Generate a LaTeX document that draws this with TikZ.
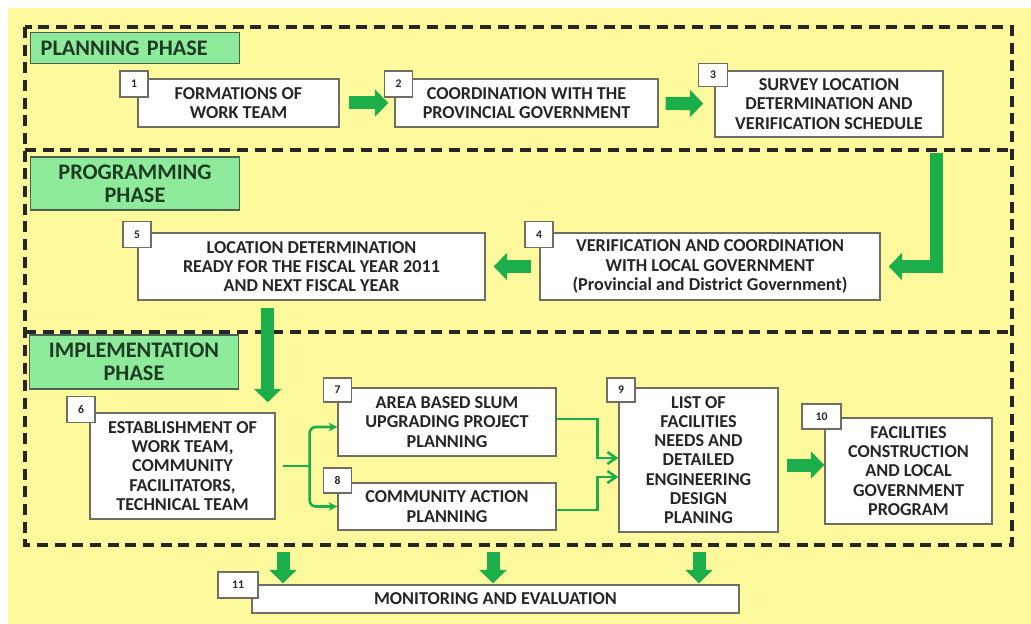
\documentclass[tikz,border=0pt]{standalone}
\usepackage{fontspec}
\setmainfont{Carlito}
\usetikzlibrary{arrows.meta,positioning,calc}
\definecolor{pbyellow}{HTML}{FFF99E}
\definecolor{pbgreen}{HTML}{1BAE4B}
\definecolor{pblabel}{HTML}{8DEB9B}
\definecolor{pbline}{HTML}{6E6E62}
\definecolor{pbtext}{HTML}{262626}
\definecolor{pbdark}{HTML}{1F3B22}
\tikzset{
  stepbox/.style={rectangle, draw=pbline, fill=white, line width=1.2pt, align=center,
                  font=\fontsize{15.5}{16.4}\selectfont\bfseries, text=pbtext, inner sep=2pt},
  numtag/.style={rectangle, draw=pbline, fill=white, line width=1pt,
                 font=\fontsize{10}{11}\selectfont\bfseries, text=pbtext,
                 minimum width=0.84cm, minimum height=0.78cm, inner sep=0pt},
  phase/.style={rectangle, draw=pbdark!80, fill=pblabel, line width=1.2pt, align=center,
                font=\fontsize{19}{20}\selectfont\bfseries, text=pbdark,
                minimum width=6.27cm, inner sep=3pt},
  fatarrow/.style={draw=pbgreen, line width=0.39cm, -{Triangle[width=0.8cm, length=0.4cm]}},
  thinarrow/.style={draw=pbgreen, line width=2.2pt, -{Stealth[length=2.6mm, width=2.6mm]}},
  barbarrow/.style={draw=pbgreen, line width=2.2pt, -{Straight Barb[length=2.6mm, width=3.6mm]}},
  framedash/.style={draw=black!85, line width=2.6pt, dash pattern=on 0.33cm off 0.2cm},
}

\begin{document}
\begin{tikzpicture}[x=0.03cm, y=-0.03cm]
\useasboundingbox (0,0) rectangle (1031,624);
\fill[white] (0,0) rectangle (1031,624);
\fill[pbyellow] (8,8) rectangle (1031,624);

% phase frame
\draw[framedash] (25,27) rectangle (1012,545);
\draw[framedash] (25,150) -- (1012,150);
\draw[framedash] (25,332) -- (1012,332);

\node[phase, anchor=north west, minimum height=0.93cm, inner xsep=0.3cm, text width=5.67cm, align=left] (ph1) at (30,32) {PLANNING PHASE};
\node[phase, minimum height=1.59cm] (ph2) at (135,183.5) {PROGRAMMING\\PHASE};
\node[phase, minimum height=1.62cm] (ph3) at (134,362) {IMPLEMENTATION\\PHASE};

% steps
\node[stepbox, minimum width=6.03cm, minimum height=1.44cm] (b1) at (238.5,103) {FORMATIONS OF\\WORK TEAM};
\node[stepbox, minimum width=7.89cm, minimum height=1.44cm] (b2) at (526.5,103) {COORDINATION WITH THE\\PROVINCIAL GOVERNMENT};
\node[stepbox, minimum width=6.84cm, minimum height=1.98cm] (b3) at (829,104) {SURVEY LOCATION\\DETERMINATION AND\\VERIFICATION SCHEDULE};
\node[stepbox, minimum width=10.2cm, minimum height=2.01cm] (b4) at (710,266.5) {VERIFICATION AND COORDINATION\\WITH LOCAL GOVERNMENT\\(Provincial and District Government)};
\node[stepbox, minimum width=10.41cm, minimum height=2.01cm] (b5) at (311.5,266.5) {LOCATION DETERMINATION\\READY FOR THE FISCAL YEAR 2011\\AND NEXT FISCAL YEAR};
\node[stepbox, minimum width=5.55cm, minimum height=3.18cm] (b6) at (182.5,466) {ESTABLISHMENT OF\\WORK TEAM,\\COMMUNITY\\FACILITATORS,\\TECHNICAL TEAM};
\node[stepbox, minimum width=6.54cm, minimum height=2.04cm] (b7) at (447,422) {AREA BASED SLUM\\UPGRADING PROJECT\\PLANNING};
\node[stepbox, minimum width=6.54cm, minimum height=1.41cm] (b8) at (447,506.5) {COMMUNITY ACTION\\PLANNING};
\node[stepbox, minimum width=4.77cm, minimum height=4.32cm] (b9) at (698.5,460) {LIST OF\\FACILITIES\\NEEDS AND\\DETAILED\\ENGINEERING\\DESIGN\\PLANING};
\node[stepbox, minimum width=5.01cm, minimum height=3.18cm] (b10) at (908.5,471) {FACILITIES\\CONSTRUCTION\\AND LOCAL\\GOVERNMENT\\PROGRAM};
\node[stepbox, minimum width=14.61cm, minimum height=0.84cm] (b11) at (495.5,599) {MONITORING AND EVALUATION};

% number tags
\node[numtag] (n1) at (134,84) {1};
\node[numtag] (n2) at (398.5,84) {2};
\node[numtag, minimum width=0.87cm, minimum height=0.69cm] (n3) at (713,75) {3};
\node[numtag] (n4) at (539,234.5) {4};
\node[numtag] (n5) at (137,234.5) {5};
\node[numtag] (n6) at (81,409.5) {6};
\node[numtag, minimum height=0.72cm] (n7) at (337.5,390) {7};
\node[numtag, minimum height=0.75cm] (n8) at (337.5,480.5) {8};
\node[numtag, minimum height=0.72cm] (n9) at (621,390) {9};
\node[numtag, minimum width=1.17cm, minimum height=0.75cm] (n10) at (821.5,416.5) {10};
\node[numtag, minimum width=1.2cm] (n11) at (238,585) {11};

% flow
\draw[fatarrow, shorten <=0.27cm, shorten >=0.18cm] (b1) -- (b2);
\draw[fatarrow, shorten <=0.21cm, shorten >=0.33cm] (b2) -- (b3);
\coordinate (c34) at ($(b3.south east)+(-7,15)$);
\draw[fatarrow, shorten >=0.24cm] (c34) |- (b4.east);
\draw[fatarrow, shorten <=0.24cm, shorten >=0.24cm] (b4) -- (b5);
\coordinate (c56) at ($(b6.north east)+(-8,0)$);
\draw[fatarrow, shorten <=0.21cm, shorten >=0.3cm] (c56 |- b5.south) -- (c56);

\coordinate (split) at ($(b6.east)+(34,0)$);
\draw[draw=pbgreen, line width=2.2pt, shorten <=0.21cm] (b6.east) -- (split);
\draw[thinarrow, rounded corners=0.18cm] (split) |- ([yshift=-0.15cm]b7.west);
\draw[thinarrow, rounded corners=0.18cm] (split) |- (b8.west);

\draw[barbarrow] ([yshift=0.09cm]b7.east) -- ++(41,0) |- ([yshift=0.06cm]b9.west);
\draw[barbarrow] ([yshift=-0.105cm]b8.east) -- ++(41,0) |- ([yshift=-0.51cm]b9.west);

\coordinate (c910) at ([yshift=-0.15cm]b9.east);
\draw[fatarrow, shorten <=0.24cm] (c910) -- (c910 -| b10.west);

\coordinate (m1) at (283,545);
\coordinate (m2) at (493,545);
\coordinate (m3) at (699,545);
\draw[fatarrow, shorten <=0.21cm, shorten >=0.03cm] (m1) -- (m1 |- b11.north);
\draw[fatarrow, shorten <=0.21cm, shorten >=0.03cm] (m2) -- (m2 |- b11.north);
\draw[fatarrow, shorten <=0.21cm, shorten >=0.03cm] (m3) -- (m3 |- b11.north);
\end{tikzpicture}
\end{document}
